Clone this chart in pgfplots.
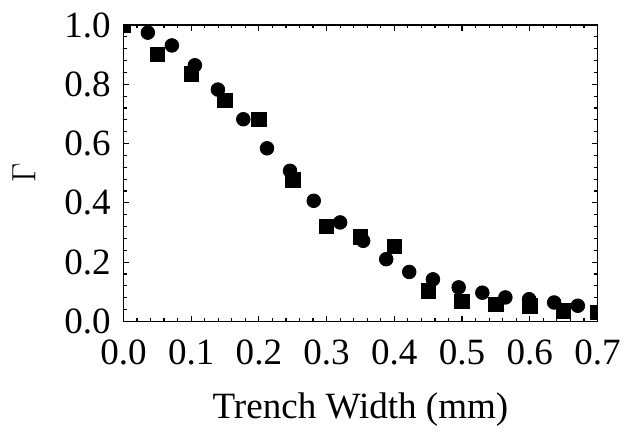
\documentclass[border=0pt]{standalone}
\usepackage{pgfplots}
\pgfplotsset{compat=1.18}
\usepackage{fontspec}
\setmainfont{Liberation Serif}
\begin{document}
\fontsize{19}{23}\selectfont
\begin{tikzpicture}
\begin{axis}[
  scale only axis,
  width=243pt, height=152pt,
  xmin=0, xmax=0.7, ymin=0, ymax=1.0,
  xtick={0,0.1,...,0.7}, ytick={0,0.2,...,1.0},
  minor x tick num=4, minor y tick num=4,
  tick align=inside,
  major tick length=3pt, minor tick length=1.7pt,
  tick style={black, line width=0.6pt},
  axis line style={line width=0.8pt},
  xticklabel style={yshift=-3pt, /pgf/number format/.cd, fixed, fixed zerofill, precision=1, assume math mode=true},
  yticklabel style={/pgf/number format/.cd, fixed, fixed zerofill, precision=1, assume math mode=true},
  tick label style={font=\fontsize{19}{23}\selectfont},
  label style={font=\fontsize{19}{23}\selectfont},
  xlabel={Trench Width (mm)},
  ylabel={$\Gamma$},
  xlabel style={yshift=-1.5pt},
  ylabel style={yshift=2pt},
  clip=true,
  clip marker paths=true,
  axis on top,
]
\addplot[only marks, mark=*, mark size=3.5pt, black] coordinates {
(0.036,0.974) (0.0715,0.931) (0.1055,0.864) (0.1395,0.782) (0.177,0.682)
(0.212,0.584) (0.246,0.508) (0.281,0.407) (0.320,0.334) (0.354,0.272)
(0.388,0.210) (0.422,0.167) (0.457,0.142) (0.495,0.115) (0.530,0.097)
(0.564,0.081) (0.599,0.075) (0.636,0.064) (0.671,0.053)
};
\addplot[only marks, mark=square*, mark size=3.7pt, black] coordinates {
(0.0,1.0) (0.05,0.90) (0.10,0.835) (0.15,0.745) (0.20,0.682)
(0.25,0.478) (0.30,0.320) (0.35,0.285) (0.40,0.253) (0.45,0.103)
(0.50,0.067) (0.55,0.058) (0.60,0.053) (0.65,0.036) (0.70,0.030)
};
\end{axis}
\end{tikzpicture}
\end{document}
